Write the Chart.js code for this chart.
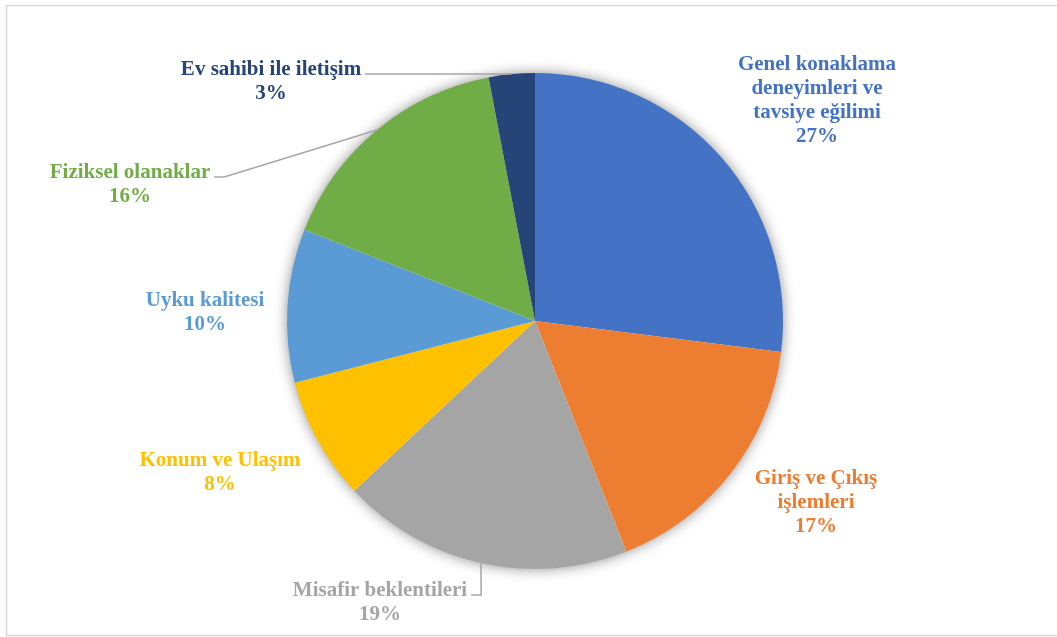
<!DOCTYPE html>
<html>
<head>
<meta charset="utf-8">
<script src="https://cdn.jsdelivr.net/npm/chart.js@4"></script>
<style>
  html, body { margin: 0; padding: 0; background: #fff; }
  #wrap { width: 1057px; height: 637px; position: relative; }
</style>
</head>
<body>
<div id="wrap"><canvas id="chart" width="1057" height="637"></canvas></div>
<script>
const CATEGORIES = [
  ['Genel konaklama', 'deneyimleri ve', 'tavsiye eğilimi'],
  ['Giriş ve Çıkış', 'işlemleri'],
  ['Misafir beklentileri'],
  ['Konum ve Ulaşım'],
  ['Uyku kalitesi'],
  ['Fiziksel olanaklar'],
  ['Ev sahibi ile iletişim'],
]
const SHARES = [27, 17, 19, 8, 10, 16, 3]
const COLORS = ['#4472c4', '#ed7d31', '#a5a5a5', '#ffc000', '#5b9bd5', '#70ad47', '#264478']

// label block centres, offset from the pie centre
const LABEL_OFFSETS = [
  [282, -220], [281, 182], [-155, 282], [-315, 152], [-330, -8], [-405, -136], [-264, -239],
]
const HAS_LEADER = [false, false, true, false, false, true, true]

const FONT = 'bold 21px "Liberation Serif", "Times New Roman", serif'
const LINE_H = 24

const framePlugin = {
  id: 'frame',
  beforeDraw(c) {
    const ctx = c.ctx
    ctx.save()
    ctx.strokeStyle = '#d9d9d9'
    ctx.lineWidth = 1.5
    ctx.strokeRect(6.5, 5.5, 1100, 630)
    ctx.restore()
  },
}

const shadowPlugin = {
  id: 'pieShadow',
  beforeDatasetsDraw(c) {
    const arc = c.getDatasetMeta(0).data[0]
    if (!arc) return
    const ctx = c.ctx
    ctx.save()
    ctx.shadowColor = 'rgba(0,0,0,0.5)'
    ctx.shadowBlur = 14
    ctx.fillStyle = '#fff'
    ctx.beginPath()
    ctx.arc(arc.x, arc.y, arc.outerRadius - 1, 0, Math.PI * 2)
    ctx.fill()
    ctx.restore()
  },
}

const labelPlugin = {
  id: 'sliceLabels',
  afterDatasetsDraw(c) {
    const ctx = c.ctx
    const arcs = c.getDatasetMeta(0).data
    ctx.save()
    ctx.font = FONT
    ctx.textAlign = 'center'
    ctx.textBaseline = 'middle'
    arcs.forEach((arc, i) => {
      const lines = [...CATEGORIES[i], SHARES[i] + '%']
      const cx = arc.x + LABEL_OFFSETS[i][0]
      const cy = arc.y + LABEL_OFFSETS[i][1]
      const top = cy - (lines.length - 1) * LINE_H / 2
      ctx.fillStyle = COLORS[i]
      lines.forEach((t, k) => ctx.fillText(t, cx, top + k * LINE_H))

      if (HAS_LEADER[i]) {
        const w = ctx.measureText(CATEGORIES[i][0]).width
        const sx = cx + w / 2 + 4
        const sy = top + 4
        const mid = (arc.startAngle + arc.endAngle) / 2
        const ex = arc.x + Math.cos(mid) * arc.outerRadius
        const ey = arc.y + Math.sin(mid) * arc.outerRadius
        ctx.strokeStyle = '#a6a6a6'
        ctx.lineWidth = 1.5
        ctx.beginPath()
        ctx.moveTo(sx, sy)
        ctx.lineTo(sx + 10, sy)
        ctx.lineTo(ex, ey)
        ctx.stroke()
      }
    })
    ctx.restore()
  },
}

new Chart(document.getElementById('chart'), {
  type: 'pie',
  data: {
    labels: CATEGORIES.map((l) => l.join(' ')),
    datasets: [{
      data: SHARES,
      backgroundColor: COLORS,
      borderWidth: 0,
    }],
  },
  options: {
    responsive: false,
    animation: false,
    layout: { padding: { left: 287, right: 274, top: 73, bottom: 68 } },
    plugins: {
      legend: { display: false },
      tooltip: { enabled: false },
    },
  },
  plugins: [framePlugin, shadowPlugin, labelPlugin],
})
</script>
</body>
</html>
